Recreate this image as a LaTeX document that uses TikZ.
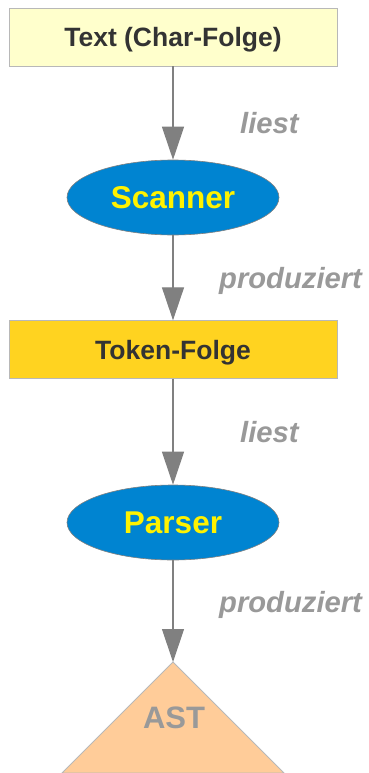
\documentclass[tikz,border=0pt]{standalone}
\usepackage{fontspec}
\setmainfont{Liberation Sans}
\usepackage{xcolor}
\usepackage{tikz}
\usetikzlibrary{arrows.meta, shapes.geometric}

\definecolor{textbg}{HTML}{FFFFCC}
\definecolor{tokenbg}{HTML}{FFD320}
\definecolor{procblue}{HTML}{0084D1}
\definecolor{astbg}{HTML}{FFCC99}
\definecolor{darktext}{HTML}{333333}
\definecolor{labelgray}{HTML}{999999}
\definecolor{arrowgray}{HTML}{808080}
\definecolor{edgegray}{HTML}{B8B8B8}

\begin{document}
\begin{tikzpicture}[x=1pt, y=-1pt, >={Triangle[width=22pt, length=33pt]},
    databox/.style={rectangle, draw=edgegray, line width=0.8pt, minimum width=328pt, minimum height=57.5pt, inner sep=0pt,
        text=darktext, font=\fontsize{26.5}{30}\selectfont\bfseries, text height=19pt, text depth=0pt},
    procnode/.style={ellipse, draw=arrowgray, line width=0.6pt, fill=procblue, minimum width=212pt, minimum height=75pt, inner sep=0pt,
        text=yellow, font=\fontsize{31.5}{36}\selectfont\bfseries, text height=22.6pt, text depth=0pt},
    flow/.style={->, arrowgray, line width=1.2pt},
    flowlabel/.style={anchor=base west, inner sep=0pt, text=labelgray, font=\fontsize{29.2}{33}\selectfont\bfseries\itshape}]
    \useasboundingbox (0,0) rectangle (369,773);

    % Text
    \node[databox, fill=textbg] (text) at (173,37.25) {Text (Char-Folge)};

    % Scanner
    \node[procnode] (scanner) at (173,197.5) {Scanner};
    \draw[flow] (text) -- (scanner);
    \node[flowlabel] (liest1) at (240,133) {liest};

    % Token-Folge
    \node[databox, fill=tokenbg] (token) at (173,349.5) {Token-Folge};
    \draw[flow] (scanner) -- (token);
    \node[flowlabel] (prod1) at (219,288) {produziert};

    % Parser
    \node[procnode] (parser) at (173,522.5) {Parser};
    \draw[flow] (token) -- (parser);
    \node[flowlabel] (liest2) at (240,442) {liest};

    % AST
    \coordinate (ast) at (173,662);
    \draw[draw=edgegray, line width=0.8pt, fill=astbg] (ast) -- ++(-111,111) -- ++(222,0) -- cycle;
    \node[anchor=base, inner sep=0pt, text=labelgray, font=\fontsize{31}{36}\selectfont\bfseries] (astlabel) at (174,728) {AST};
    \draw[flow] (parser) -- (ast);
    \node[flowlabel] (prod2) at (219,612) {produziert};
\end{tikzpicture}
\end{document}
